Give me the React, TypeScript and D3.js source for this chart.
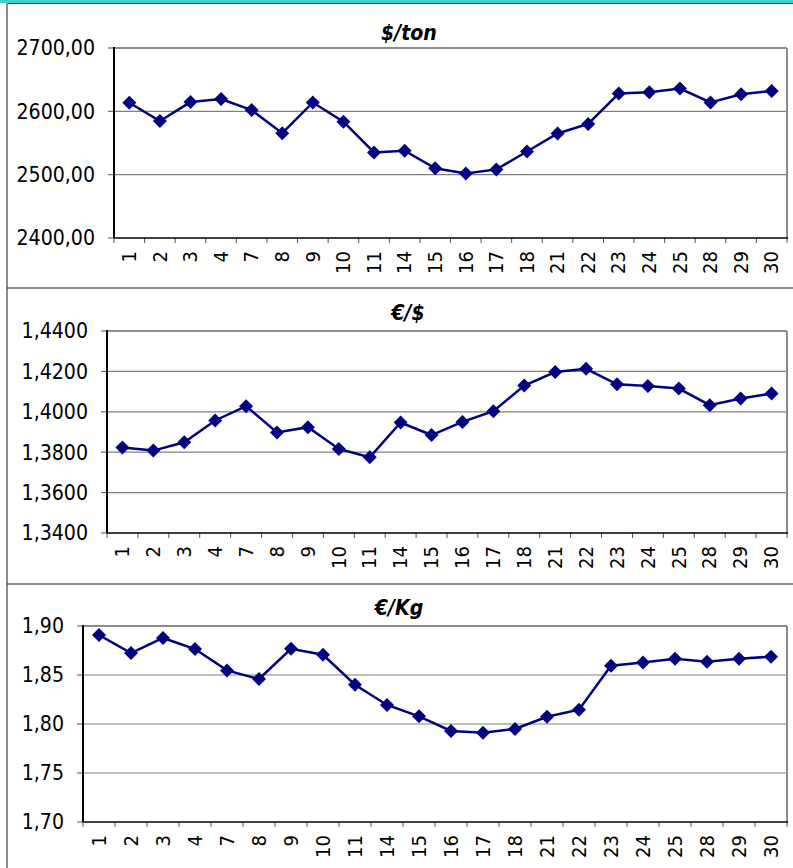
import React from 'react';
import * as d3 from 'd3';

const days = ['1', '2', '3', '4', '7', '8', '9', '10', '11', '14', '15', '16', '17', '18', '21', '22', '23', '24', '25', '28', '29', '30'];

const usdPerTon = [2613.5, 2584.8, 2614.6, 2619.3, 2602, 2565.5, 2614, 2583.7, 2535, 2537.7, 2510, 2502, 2508.3, 2536.6, 2565, 2580, 2628, 2630, 2636, 2614, 2627, 2632];
const eurUsd = [1.3823, 1.3808, 1.3849, 1.3957, 1.4028, 1.3898, 1.3924, 1.3816, 1.3775, 1.3947, 1.3885, 1.395, 1.4003, 1.413, 1.4197, 1.4213, 1.4136, 1.4128, 1.4115, 1.4033, 1.4066, 1.409];
const eurPerKg = [1.8908, 1.8724, 1.8878, 1.8765, 1.8547, 1.8459, 1.8768, 1.8707, 1.8401, 1.8194, 1.8078, 1.7929, 1.7911, 1.7949, 1.8074, 1.8146, 1.8595, 1.8627, 1.8666, 1.8636, 1.8666, 1.8687];

const usdTicks = [2400, 2500, 2600, 2700];
const eurUsdTicks = [1.34, 1.36, 1.38, 1.40, 1.42, 1.44];
const kgTicks = [1.70, 1.75, 1.80, 1.85, 1.90];

const W = 793;
const H = 868;
const FONT = '"DejaVu Sans", Verdana, sans-serif';
const NAVY = '#000080';

interface PanelProps {
  title: string;
  values: number[];
  ticks: number[];
  decimals: number;
  left: number;
  top: number;
  right: number;
  bottom: number;
  titleX: number;
  titleY: number;
}

function Panel({ title, values, ticks, decimals, left, top, right, bottom, titleX, titleY }: PanelProps) {
  const x = d3.scaleBand<string>().domain(days).range([left, right]).paddingInner(0).paddingOuter(0);
  const y = d3.scaleLinear().domain([ticks[0], ticks[ticks.length - 1]]).range([bottom, top]);
  const fmt = (v: number) => v.toFixed(decimals).replace('.', ',');

  const line = d3.line<number>()
    .x((_, i) => (x(days[i]) as number) + x.bandwidth() / 2)
    .y((d) => y(d));

  const diamond = d3.symbol().type(d3.symbolSquare).size(98)();
  const bounds = days.map((d) => x(d) as number).concat([right]);

  return (
    <g>
      <text transform={`translate(${titleX},${titleY}) scale(1,1.12)`} textAnchor="middle" fontFamily={FONT} fontWeight="bold" fontStyle="italic" fontSize={19}>
        {title}
      </text>
      {/* grid */}
      {ticks.slice(1, -1).map((t) => (
        <line key={t} x1={left} x2={right} y1={y(t)} y2={y(t)} stroke="#808080" strokeWidth={1.2} />
      ))}
      {/* plot frame: top and right in gray */}
      <line x1={left} x2={right} y1={top} y2={top} stroke="#8c8c8c" strokeWidth={2} />
      <line x1={right} x2={right} y1={top} y2={bottom} stroke="#8c8c8c" strokeWidth={2} />
      {/* y ticks and labels */}
      {ticks.map((t) => (
        <g key={'y' + t}>
          <line x1={left - 6} x2={left} y1={y(t)} y2={y(t)} stroke="#555" strokeWidth={1} />
          <text transform={`translate(${left - 19},${y(t)}) scale(1,1.14)`} textAnchor="end" dominantBaseline="central" fontFamily={FONT} fontSize={19}>
            {fmt(t)}
          </text>
        </g>
      ))}
      {/* x ticks */}
      {bounds.map((b, i) => (
        <line key={'xt' + i} x1={b} x2={b} y1={bottom} y2={bottom + 5} stroke="#555" strokeWidth={1} />
      ))}
      {days.map((d) => {
        const cx = (x(d) as number) + x.bandwidth() / 2;
        const ty = bottom + 13;
        return (
          <text key={'xl' + d} transform={`translate(${cx},${ty}) rotate(-90) scale(1,1.08)`} textAnchor="end" dominantBaseline="central" fontFamily={FONT} fontSize={18}>
            {d}
          </text>
        );
      })}
      {/* axes */}
      <line x1={left} x2={left} y1={top - 1} y2={bottom} stroke="#000" strokeWidth={2} />
      <line x1={left} x2={right + 1} y1={bottom} y2={bottom} stroke="#000" strokeWidth={1.5} />
      {/* series */}
      <path d={line(values) || ''} fill="none" stroke={NAVY} strokeWidth={2.5} />
      {values.map((v, i) => (
        <path
          key={'m' + i}
          d={diamond || ''}
          transform={`translate(${(x(days[i]) as number) + x.bandwidth() / 2},${y(v)}) rotate(45)`}
          fill={NAVY}
        />
      ))}
    </g>
  );
}

export default function App() {
  return (
    <div style={{ position: 'absolute', left: 0, top: 0 }}>
      <svg width={W} height={H} style={{ display: 'block', background: '#fff' }}>
        {/* frame */}
        <rect x={0} y={0} width={W} height={3} fill="#3ccfcf" />
        <line x1={7} x2={W} y1={3.5} y2={3.5} stroke="#444" strokeWidth={1.2} />
        <line x1={7} x2={7} y1={3} y2={H} stroke="#8c8c8c" strokeWidth={2} />
        <line x1={7} x2={W} y1={288} y2={288} stroke="#222" strokeWidth={1.2} />
        <line x1={7} x2={W} y1={584} y2={584} stroke="#222" strokeWidth={1.2} />

        <Panel title="$/ton" values={usdPerTon} ticks={usdTicks} decimals={2}
          left={114} top={48} right={787} bottom={238} titleX={409} titleY={40} />
        <Panel title="€/$" values={eurUsd} ticks={eurUsdTicks} decimals={4}
          left={107} top={331} right={787} bottom={533} titleX={408} titleY={320} />
        <Panel title="€/Kg" values={eurPerKg} ticks={kgTicks} decimals={2}
          left={83} top={626} right={787} bottom={822} titleX={399} titleY={615} />
      </svg>
    </div>
  );
}
